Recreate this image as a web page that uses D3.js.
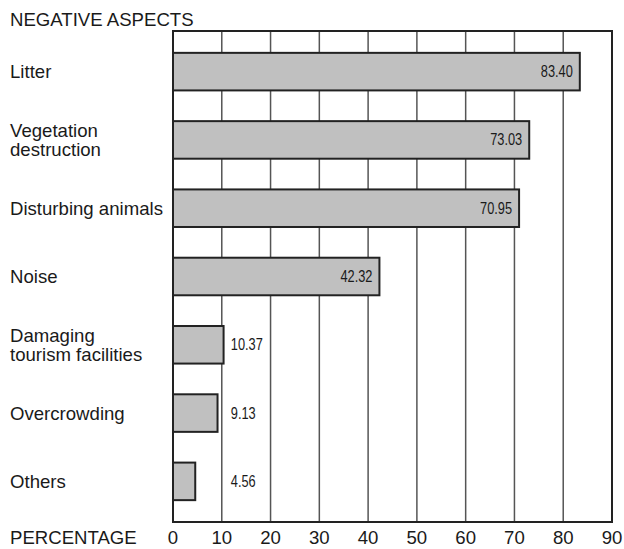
<!DOCTYPE html>
<html>
<head>
<meta charset="utf-8">
<script src="https://cdn.jsdelivr.net/npm/d3@7/dist/d3.min.js"></script>
<style>
  html, body { margin: 0; padding: 0; background: #fff; }
  svg { display: block; }
  text { font-family: "Liberation Sans", Arial, Helvetica, sans-serif; fill: #1a1a1a; }
</style>
</head>
<body>
<svg id="chart" width="624" height="549"></svg>
<script>
// Negative aspects reported by visitors (% of respondents)
const categories = [
  ["Litter"],
  ["Vegetation", "destruction"],
  ["Disturbing animals"],
  ["Noise"],
  ["Damaging", "tourism facilities"],
  ["Overcrowding"],
  ["Others"]
];
const values = [83.40, 73.03, 70.95, 42.32, 10.37, 9.13, 4.56];
const tickValues = [0, 10, 20, 30, 40, 50, 60, 70, 80, 90];
const axisTitle = "PERCENTAGE";
const chartTitle = "NEGATIVE ASPECTS";

const svg = d3.select("#chart");
const plotLeft = 173, plotRight = 612, plotTop = 31, plotBottom = 522;
const fontSize = 18.6;

const x = d3.scaleLinear().domain([0, 90]).range([plotLeft, plotRight]);
const y = d3.scaleBand()
  .domain(d3.range(values.length))
  .range([plotTop, plotBottom])
  .paddingInner(0.45)
  .paddingOuter(0.32);

// vertical grid lines
svg.append("g")
  .selectAll("line")
  .data(tickValues.slice(1, -1))
  .join("line")
  .attr("x1", d => x(d)).attr("x2", d => x(d))
  .attr("y1", plotTop).attr("y2", plotBottom)
  .attr("stroke", "#555")
  .attr("stroke-width", 1.5);

// plot frame
svg.append("rect")
  .attr("x", plotLeft).attr("y", plotTop)
  .attr("width", plotRight - plotLeft).attr("height", plotBottom - plotTop)
  .attr("fill", "none")
  .attr("stroke", "#222")
  .attr("stroke-width", 2);

// bars
svg.append("g")
  .selectAll("rect")
  .data(values)
  .join("rect")
  .attr("x", x(0))
  .attr("y", (d, i) => y(i))
  .attr("width", d => x(d) - x(0))
  .attr("height", y.bandwidth())
  .attr("fill", "#c0c0c0")
  .attr("stroke", "#222")
  .attr("stroke-width", 2);

// value labels (condensed): inside long bars, beside short ones
svg.append("g")
  .selectAll("text")
  .data(values)
  .join("text")
  .attr("transform", (d, i) => {
    const tx = d > 20 ? x(d) - 7 : x(10) + 9;
    const ty = y(i) + y.bandwidth() / 2 + 5.5;
    return `translate(${tx},${ty}) scale(0.8,1)`;
  })
  .attr("text-anchor", d => d > 20 ? "end" : "start")
  .attr("font-size", 16)
  .text(d => d.toFixed(2));

// category labels
const cat = svg.append("g")
  .selectAll("text")
  .data(categories)
  .join("text")
  .attr("font-size", fontSize)
  .attr("x", 10)
  .attr("y", (d, i) => y(i) + y.bandwidth() / 2 + 6.8 - (d.length - 1) * 9.3);
cat.selectAll("tspan")
  .data(d => d)
  .join("tspan")
  .attr("x", 10)
  .attr("dy", (d, j) => j === 0 ? 0 : 18.6)
  .text(d => d);

// chart title
svg.append("text")
  .attr("x", 10).attr("y", 25.5)
  .attr("font-size", fontSize)
  .text(chartTitle);

// x axis tick labels
svg.append("g")
  .selectAll("text")
  .data(tickValues)
  .join("text")
  .attr("x", d => x(d))
  .attr("y", 543.5)
  .attr("text-anchor", "middle")
  .attr("font-size", fontSize)
  .text(d => d);

svg.append("text")
  .attr("x", 10).attr("y", 543.5)
  .attr("font-size", fontSize)
  .text(axisTitle);
</script>
</body>
</html>
